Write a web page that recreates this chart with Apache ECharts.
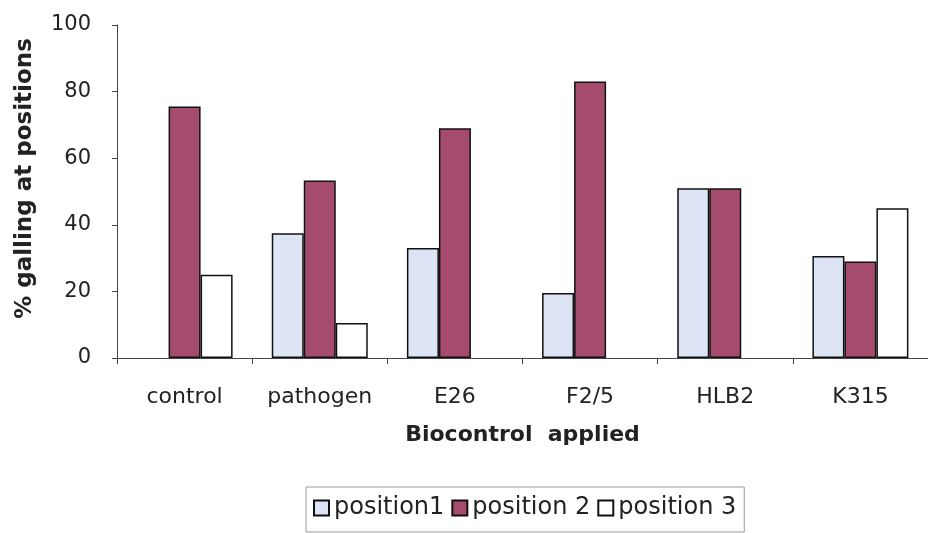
<!DOCTYPE html>
<html>
<head>
<meta charset="utf-8">
<script src="https://cdn.jsdelivr.net/npm/echarts@6/dist/echarts.min.js"></script>
<style>html,body{margin:0;padding:0;background:#fff;}#c{width:928px;height:533px;}</style>
</head>
<body>
<div id="c"></div>
<script>
const categories = ["control", "pathogen", "E26", "F2/5", "HLB2", "K315"];
const position1 = [0, 37.5, 33, 19.5, 51, 30.6];
const position2 = [75.5, 53.3, 69, 83, 51, 29];
const position3 = [25, 10.5, 0, 0, 0, 45];
const seriesNames = ["position1", "position 2", "position 3"];
const yTicks = { min: 0, max: 100, interval: 20 };

const chart = echarts.init(document.getElementById('c'));
const font = '"DejaVu Sans", sans-serif';
const toData = arr => arr.map(v => v === 0 ? { value: 0, itemStyle: { borderWidth: 0 } } : v);
const mk = (name, data, color) => ({
  name, type: 'bar', data: toData(data), barWidth: 32, barGap: '0%',
  itemStyle: { color, borderColor: '#111', borderWidth: 1.5 }
});
chart.setOption({
  animation: false,
  textStyle: { fontFamily: font },
  grid: { left: 117, top: 25, right: -9, bottom: 175, containLabel: false },
  xAxis: {
    type: 'category', data: categories,
    axisLine: { lineStyle: { color: '#444', width: 1 } },
    axisTick: { show: true, interval: 0, length: 6, lineStyle: { color: '#444' } },
    axisLabel: { interval: 0, hideOverlap: false, fontSize: 22, color: '#222', margin: 28, fontFamily: font },
    name: 'Biocontrol  applied', nameLocation: 'middle', nameGap: 66,
    nameTextStyle: { fontSize: 22, fontWeight: 'bold', color: '#222', fontFamily: font }
  },
  yAxis: {
    type: 'value', min: yTicks.min, max: yTicks.max, interval: yTicks.interval,
    axisLine: { show: true, lineStyle: { color: '#444', width: 1 } },
    axisTick: { show: true, length: 5, lineStyle: { color: '#444' } },
    splitLine: { show: false },
    axisLabel: { fontSize: 21, color: '#222', margin: 26, fontFamily: font },
    name: '% galling at positions', nameLocation: 'middle', nameGap: 80,
    nameTextStyle: { fontSize: 23, fontWeight: 'bold', color: '#222', fontFamily: font, padding: [0, 0, 0, 26] }
  },
  legend: {
    left: 306, top: 487,
    data: seriesNames,
    itemWidth: 15, itemHeight: 15, itemGap: 7,
    padding: [9, 8, 12, 7],
    borderColor: '#999', borderWidth: 1,
    textStyle: { fontSize: 24, color: '#222', fontFamily: font },
    icon: 'rect'
  },
  series: [
    mk(seriesNames[0], position1, '#dce4f6'),
    mk(seriesNames[1], position2, '#a54c6e'),
    mk(seriesNames[2], position3, '#ffffff')
  ]
});
</script>
</body>
</html>
